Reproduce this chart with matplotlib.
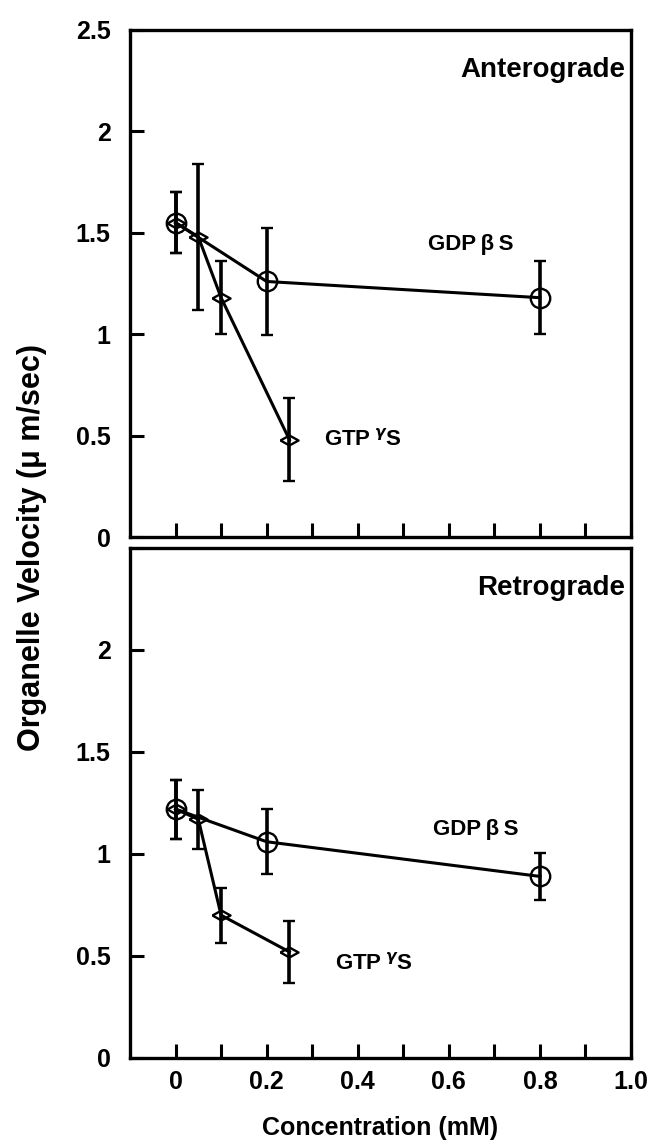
import numpy as np
import matplotlib
matplotlib.use('Agg')
import matplotlib.pyplot as plt

plt.rcParams['font.family'] = ['Liberation Sans', 'DejaVu Sans']
plt.rcParams['font.weight'] = 'bold'

# concentrations (mM)
gdp_x = [0, 0.2, 0.8]
gtp_x = [0, 0.05, 0.1, 0.25]

# anterograde
ant_gdp_y = [1.55, 1.26, 1.18]
ant_gdp_err = [0.15, 0.265, 0.18]
ant_gtp_y = [1.55, 1.48, 1.18, 0.48]
ant_gtp_err = [0.15, 0.36, 0.18, 0.205]

# retrograde
ret_gdp_y = [1.22, 1.06, 0.89]
ret_gdp_err = [0.145, 0.16, 0.115]
ret_gtp_y = [1.22, 1.17, 0.70, 0.52]
ret_gtp_err = [0.145, 0.145, 0.135, 0.15]

panels = [
    ('Anterograde', ant_gdp_y, ant_gdp_err, ant_gtp_y, ant_gtp_err, (0.555, 1.44), (0.325, 0.48)),
    ('Retrograde', ret_gdp_y, ret_gdp_err, ret_gtp_y, ret_gtp_err, (0.565, 1.12), (0.35, 0.465)),
]

# flat diamond like the original symbol
diamond = [(-1, 0), (0, 0.55), (1, 0), (0, -0.55), (-1, 0)]

fig = plt.figure(figsize=(6.65, 11.48), dpi=100)
left, width = 0.1955, 0.7534
boxes = [(left, 0.5322, width, 0.4417), (left, 0.0784, width, 0.4443)]

for i, (title, gdy, gde, gty, gte, gdp_pos, gtp_pos) in enumerate(panels):
    ax = fig.add_axes(boxes[i])
    ax.errorbar(gdp_x, gdy, yerr=gde, color='black', lw=2.2, marker='o', ms=14,
                mfc='none', mec='black', mew=1.7, ecolor='black', elinewidth=2.6,
                capsize=4.3, capthick=2.4, zorder=3)
    ax.errorbar(gtp_x, gty, yerr=gte, color='black', lw=2.2, marker=diamond, ms=13,
                mfc='none', mec='black', mew=1.7, ecolor='black', elinewidth=2.6,
                capsize=4.3, capthick=2.4, zorder=3)
    ax.set_xlim(-0.1, 1.0)
    ax.set_ylim(0, 2.5)
    ax.set_xticks(np.arange(0, 1.01, 0.1))
    ax.set_yticks([0, 0.5, 1, 1.5, 2, 2.5])
    if i == 0:
        ax.set_xticklabels([])
        ax.set_yticklabels(['0', '0.5', '1', '1.5', '2', '2.5'])
    else:
        ax.set_xticklabels(['0', '', '0.2', '', '0.4', '', '0.6', '', '0.8', '', '1.0'])
        ax.set_yticklabels(['0', '0.5', '1', '1.5', '2', ''])
    ax.tick_params(direction='in', length=10, width=2.2, labelsize=18)
    ax.tick_params(axis='y', pad=14)
    ax.tick_params(axis='x', pad=9)
    for s in ax.spines.values():
        s.set_linewidth(2.4)
    ax.text(0.988, 0.908, title, transform=ax.transAxes, ha='right', va='baseline',
            fontsize=20, fontweight='bold')
    ax.text(gdp_pos[0], gdp_pos[1], 'GDP\u2009\u03b2\u2009S', fontsize=16, fontweight='bold', va='center')
    ax.text(gtp_pos[0], gtp_pos[1], 'GTP\u2009$^{\\gamma}$S', fontsize=16, fontweight='bold', va='center')

fig.text(0.571, 0.0174, 'Concentration (mM)', ha='center', va='center',
         fontsize=18, fontweight='bold')
fig.text(0.048, 0.5235, 'Organelle Velocity (\u03bc m/sec)', rotation=90, ha='center', va='center',
         fontsize=22, fontweight='bold')

fig.savefig('out.png', dpi=100)
